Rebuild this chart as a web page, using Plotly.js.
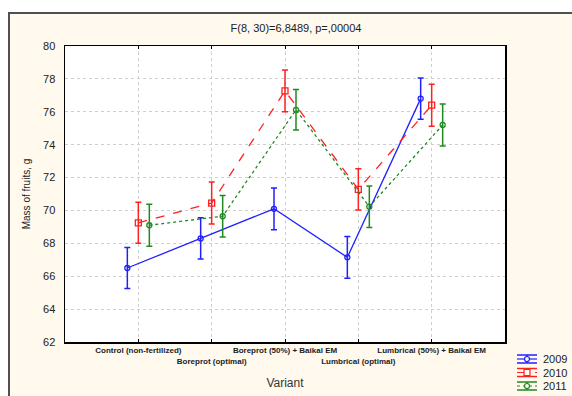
<!DOCTYPE html>
<html>
<head>
<meta charset="utf-8">
<script src="https://cdn.plot.ly/plotly-3.0.1.min.js"></script>
<style>
  html, body { margin: 0; padding: 0; background: #ffffff; width: 572px; height: 396px; overflow: hidden; }
  #frame { position: absolute; left: 8px; top: 12px; width: 566px; height: 386px;
           border-left: 2px solid #505050; border-top: 2px solid #505050; background: #FFF9EE; }
  #chart { position: absolute; left: 0; top: 0; width: 566px; height: 386px; }
</style>
</head>
<body>
<div id="frame"><div id="chart"></div></div>
<script>
// Data
const categories = ["Control (non-fertilized)", "Boreprot (optimal)", "Boreprot (50%) + Baikal EM", "Lumbrical (optimal)", "Lumbrical (50%) + Baikal EM"];
const years = ["2009", "2010", "2011"];
const mean2009 = [66.5, 68.3, 70.1, 67.15, 76.8];
const err2009  = [1.25, 1.25, 1.27, 1.27, 1.25];
const mean2010 = [69.25, 70.45, 77.27, 71.28, 76.4];
const err2010  = [1.25, 1.28, 1.27, 1.25, 1.28];
const mean2011 = [69.1, 69.65, 76.12, 70.23, 75.2];
const err2011  = [1.27, 1.26, 1.23, 1.26, 1.28];

const idx = categories.map((c, i) => i);
const offsets = [-0.15, 0, 0.15];
const colors = ["#2020ff", "#ff2020", "#208a20"];
const dashes = ["solid", "dash", "dot"];
const symbols = ["circle-open", "square-open", "circle-open"];
const msizes = [5, 6, 5];
const means = [mean2009, mean2010, mean2011];
const errs = [err2009, err2010, err2011];

const traces = years.map((y, k) => ({
  type: "scatter", mode: "lines+markers", name: y, showlegend: false,
  x: idx.map(i => i + offsets[k]), y: means[k],
  line: { color: colors[k], width: 1.3, dash: dashes[k] },
  marker: { symbol: symbols[k], size: msizes[k], color: colors[k], line: { color: colors[k], width: 1.3 } },
  error_y: { type: "data", array: errs[k], visible: true, color: colors[k], thickness: 1.5, width: 3 }
}));

// alternate tick labels onto two rows
const tickText = categories.map((c, i) => (i % 2 === 1 ? "<br>" + c : c));

const W = 440, H = 296;
const PL = 65, PT = 46; // page position of plot area
const px2x = p => (p - PL) / W;
const py2y = p => (PT + H - p) / H;

// custom legend (Statistica-like icons)
const shapes = [];
const annotations = [];
const legRows = [359, 372.5, 386];
years.forEach((y, k) => {
  const cy = legRows[k], x0 = 517, x1 = 537, xc = 527;
  const c = colors[k];
  shapes.push({ type: "line", xref: "paper", yref: "paper", x0: px2x(x0), x1: px2x(x1), y0: py2y(cy - 4), y1: py2y(cy - 4), line: { color: c, width: 1.5 } });
  shapes.push({ type: "line", xref: "paper", yref: "paper", x0: px2x(x0), x1: px2x(x1), y0: py2y(cy + 4), y1: py2y(cy + 4), line: { color: c, width: 1.5 } });
  shapes.push({ type: "line", xref: "paper", yref: "paper", x0: px2x(xc), x1: px2x(xc), y0: py2y(cy - 4), y1: py2y(cy + 4), line: { color: c, width: 1.5 } });
  shapes.push({ type: "line", xref: "paper", yref: "paper", x0: px2x(x0), x1: px2x(x1), y0: py2y(cy), y1: py2y(cy), line: { color: c, width: 1.2, dash: dashes[k] } });
  const r = k === 1 ? 3 : 2.5;
  shapes.push({ type: k === 1 ? "rect" : "circle", xref: "paper", yref: "paper", x0: px2x(xc - r), x1: px2x(xc + r), y0: py2y(cy - r), y1: py2y(cy + r),
                fillcolor: "#FFF9EE", line: { color: c, width: 1.2 } });
  annotations.push({ xref: "paper", yref: "paper", x: px2x(541), y: py2y(cy), xanchor: "left", yanchor: "middle",
                     text: y, showarrow: false, font: { size: 11, color: "#222" } });
});

const layout = {
  width: 566, height: 386,
  margin: { l: PL - 10, r: 566 - (PL - 10) - W, t: PT - 14, b: 386 - (PT - 14) - H },
  paper_bgcolor: "rgba(0,0,0,0)",
  plot_bgcolor: "#ffffff",
  font: { family: "Liberation Sans, Arial, sans-serif", color: "#222222", size: 11 },
  title: { text: "F(8, 30)=6,8489, p=,00004", font: { size: 11, color: "#222" },
           xref: "paper", x: px2x(296), xanchor: "center", yref: "container", y: 1 - 14 / 386, yanchor: "middle" },
  showlegend: false,
  shapes: shapes,
  annotations: annotations,
  xaxis: {
    range: [-1, 5], tickmode: "array", tickvals: idx, ticktext: tickText, tickangle: 0, automargin: false,
    tickfont: { size: 8, color: "#222", weight: "bold" }, ticks: "inside", ticklen: 3, tickcolor: "#000",
    showgrid: true, gridcolor: "#cfcfcf", griddash: "dot", gridwidth: 1,
    showline: true, linecolor: "#000", linewidth: 1.5, mirror: "ticks", zeroline: false,
    title: { text: "Variant", font: { size: 12, color: "#333" }, standoff: 14 }
  },
  yaxis: {
    range: [62, 80], dtick: 2, tick0: 62, automargin: false,
    tickfont: { size: 11, color: "#222" }, ticks: "", ticklabelstandoff: 6,
    showgrid: true, gridcolor: "#cfcfcf", griddash: "dot", gridwidth: 1,
    showline: true, linecolor: "#000", linewidth: 1.5, mirror: true, zeroline: false,
    title: { text: "Mass of fruits, g", font: { size: 10, color: "#222" }, standoff: 10 }
  }
};

Plotly.newPlot("chart", traces, layout, { displayModeBar: false, staticPlot: true });
</script>
</body>
</html>
